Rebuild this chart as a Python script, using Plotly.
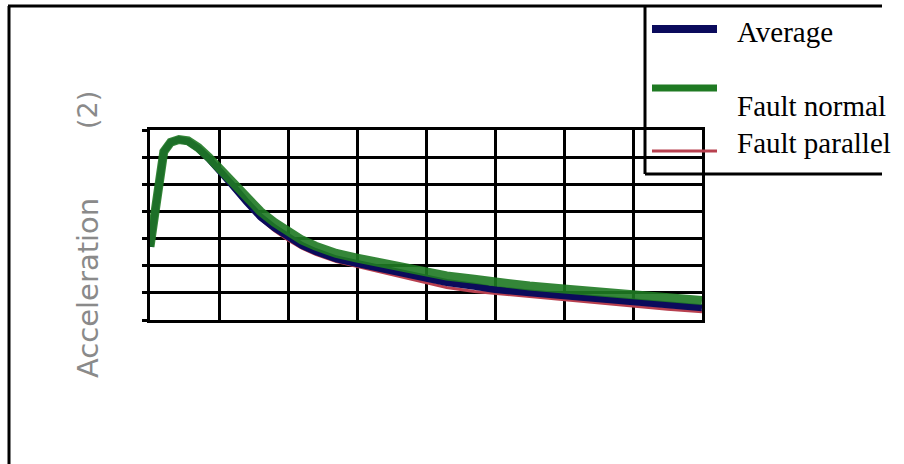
import plotly.graph_objects as go

# Period axis samples (dense through the rising limb, coarser in the tail)
period = [0.0, 0.05, 0.1, 0.15, 0.2, 0.3, 0.42, 0.55, 0.7, 0.85, 1.0, 1.2, 1.4,
          1.6, 1.8, 2.0, 2.2, 2.4, 2.7, 3.0, 3.3, 3.6, 4.0, 4.3, 4.7, 5.0, 5.5,
          6.0, 6.5, 7.0, 7.5, 8.0]

fault_normal = [2.7, 3.6, 4.8, 5.7, 6.2, 6.55, 6.65, 6.6, 6.35, 6.0, 5.6, 5.05, 4.5,
                4.0, 3.6, 3.25, 2.95, 2.72, 2.45, 2.28, 2.12, 1.95, 1.78, 1.62, 1.5,
                1.38, 1.25, 1.14, 1.03, 0.9, 0.83, 0.72]

average = [2.7, 3.6, 4.8, 5.7, 6.2, 6.55, 6.65, 6.58, 6.32, 5.95, 5.55, 4.95, 4.35,
           3.8, 3.4, 3.05, 2.75, 2.52, 2.25, 2.08, 1.92, 1.72, 1.5, 1.38, 1.24,
           1.12, 1.0, 0.9, 0.76, 0.65, 0.56, 0.45]

fault_parallel = [2.7, 3.6, 4.8, 5.7, 6.2, 6.55, 6.65, 6.56, 6.3, 5.92, 5.5, 4.9, 4.3,
                  3.72, 3.3, 2.95, 2.65, 2.42, 2.15, 1.97, 1.8, 1.6, 1.38, 1.2, 1.05,
                  0.98, 0.87, 0.75, 0.63, 0.5, 0.4, 0.3]

series_names = ["Average", "Fault normal", "Fault parallel"]
axis_title = "Acceleration"
axis_unit = "(2)"

NAVY = "#0b0b5c"
GREEN = "#1f7a23"
RED = "#b8404f"

W, H = 904, 464
PL, PR, PT, PB = 150, 702, 130, 320  # plot area in pixels


def fx(p):
    return (p - PL) / (PR - PL)


def fy(p):
    return (PB - p) / (PB - PT)


fig = go.Figure()
fig.add_trace(go.Scatter(x=period, y=fault_parallel, mode="lines",
                         line=dict(color=RED, width=3), name=series_names[2]))
fig.add_trace(go.Scatter(x=period, y=average, mode="lines",
                         line=dict(color=NAVY, width=7), name=series_names[0]))
fig.add_trace(go.Scatter(x=period, y=fault_normal, mode="lines",
                         line=dict(color=GREEN, width=9), opacity=0.9,
                         name=series_names[1]))

shapes = []
# outer frame (top and left edges)
shapes.append(dict(type="line", xref="paper", yref="paper", x0=fx(8), x1=fx(882),
                   y0=fy(6), y1=fy(6), line=dict(color="black", width=3)))
shapes.append(dict(type="line", xref="paper", yref="paper", x0=fx(9), x1=fx(9),
                   y0=fy(6), y1=fy(470), line=dict(color="black", width=3)))
# legend box
shapes.append(dict(type="line", xref="paper", yref="paper", x0=fx(645), x1=fx(645),
                   y0=fy(6), y1=fy(174), line=dict(color="black", width=3)))
shapes.append(dict(type="line", xref="paper", yref="paper", x0=fx(645), x1=fx(882),
                   y0=fy(174), y1=fy(174), line=dict(color="black", width=3)))
# legend swatches
for yy, col, wd in [(29, NAVY, 8), (88, GREEN, 7), (151, RED, 3)]:
    shapes.append(dict(type="line", xref="paper", yref="paper", x0=fx(652), x1=fx(717),
                       y0=fy(yy), y1=fy(yy), line=dict(color=col, width=wd)))

annotations = []
for name, yy in zip(series_names, [32, 106, 143]):
    annotations.append(dict(text=name, xref="paper", yref="paper", x=fx(735), y=fy(yy),
                            xanchor="left", yanchor="middle", showarrow=False,
                            font=dict(family="Liberation Serif", size=29, color="black")))
annotations.append(dict(text=axis_title, xref="paper", yref="paper", x=fx(88), y=fy(288),
                        xanchor="center", yanchor="middle", textangle=-90, showarrow=False,
                        font=dict(family="DejaVu Sans", size=29, color="#8a8a8a")))
annotations.append(dict(text=axis_unit, xref="paper", yref="paper", x=fx(88), y=fy(110),
                        xanchor="center", yanchor="middle", textangle=-90, showarrow=False,
                        font=dict(family="DejaVu Sans", size=27, color="#8a8a8a")))

fig.update_layout(
    width=W, height=H,
    margin=dict(l=PL, r=W - PR, t=PT, b=H - PB),
    paper_bgcolor="white", plot_bgcolor="white",
    showlegend=False,
    shapes=shapes,
    annotations=annotations,
    xaxis=dict(range=[0, 8], dtick=1, tick0=0, showgrid=True, gridcolor="black",
               gridwidth=3, showline=True, linecolor="black", linewidth=3, mirror=True,
               zeroline=False, showticklabels=False, ticks=""),
    yaxis=dict(range=[0, 7], dtick=1, tick0=0, showgrid=True, gridcolor="black",
               gridwidth=3, showline=True, linecolor="black", linewidth=3, mirror=True,
               zeroline=False, showticklabels=False, ticks="outside", ticklen=5,
               tickwidth=3, tickcolor="black"),
)

fig.write_html("out.html")
